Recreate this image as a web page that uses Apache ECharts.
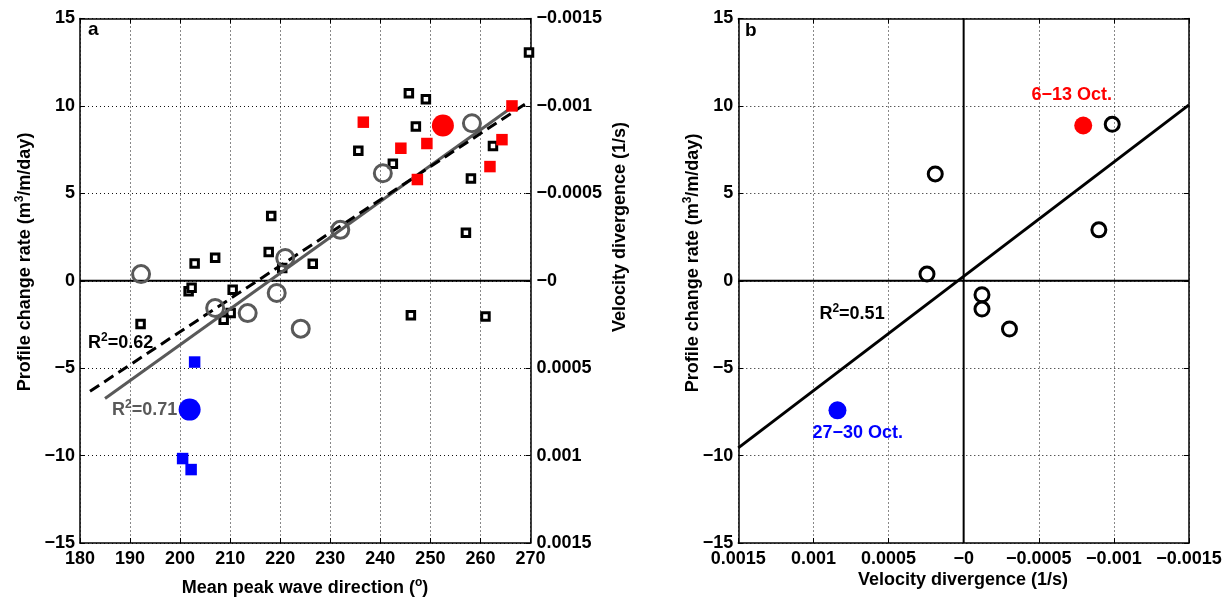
<!DOCTYPE html>
<html>
<head>
<meta charset="utf-8">
<script src="https://cdn.jsdelivr.net/npm/echarts@6/dist/echarts.min.js"></script>
<style>html,body{margin:0;padding:0;background:#fff;}#c{width:1227px;height:597px;}</style>
</head>
<body>
<div id="c"></div>
<script>
// ---- Panel a data: [mean peak wave direction (deg), profile change rate] ----
var blackSquaresA = [[269.7,13.05],[245.7,10.72],[249.1,10.38],[247.1,8.82],[235.6,7.43],[242.5,6.69],[262.5,7.71],[258.1,5.85],[218.2,3.71],[217.7,1.64],[220.4,0.73],[226.5,0.97],[257.1,2.74],[202.9,0.99],[207,1.31],[201.7,-0.6],[202.3,-0.4],[210.5,-0.51],[210.1,-1.85],[208.7,-2.23],[192.1,-2.48],[246.1,-1.98],[261,-2.04]];
var grayCirclesA = [[192.2,0.38],[207,-1.56],[213.5,-1.85],[219.3,-0.7],[224.1,-2.74],[221,1.3],[232,2.91],[240.5,6.15],[258.3,9.01]];
var redSquaresA = [[236.6,9.07],[244.1,7.58],[249.3,7.85],[247.4,5.79],[264.3,8.07],[261.9,6.53],[266.3,10.0]];
var redCircleA = [[252.5,8.88]];
var blueSquaresA = [[202.9,-4.65],[200.5,-10.17],[202.2,-10.8]];
var blueCircleA = [[201.9,-7.37]];
var fitDashedA = [[182,-6.32],[269.7,10.25]];
var fitGrayA = [[185,-6.74],[267,10.07]];
var zeroLineA = [[180,0],[270,0]];
var r2TextA = [{pos:[181.6,-3.54], r2:'0.62', color:'#000'},{pos:[186.4,-7.37], r2:'0.71', color:'#595959'}];

// ---- Panel b data: [velocity divergence (1/s), profile change rate] ----
var blackCirclesB = [[0.000189,6.11],[0.000244,0.38],[-0.000989,8.95],[-0.0009,2.91],[-0.000122,-0.80],[-0.000122,-1.62],[-0.000305,-2.76]];
var redCircleB = [[-0.000796,8.88]];
var blueCircleB = [[0.00084,-7.41]];
var fitB = [[0.0015,-9.56],[-0.0015,10.06]];
var zeroHB = [[0.0015,0],[-0.0015,0]];
var zeroVB = [[0,-15],[0,15]];
var r2TextB = [{pos:[0.00096,-1.9], r2:'0.51', color:'#000'}];
var dateLabelsB = [{pos:[-0.00072,10.6], text:'6\u221213 Oct.', color:'#ff0000'},{pos:[0.000705,-8.7], text:'27\u221230 Oct.', color:'#0000ff'}];

// ---- Axis settings ----
var dirMin = 180, dirMax = 270, dirStep = 10;
var rateMin = -15, rateMax = 15, rateStep = 5;
var divMin = -0.0015, divMax = 0.0015, divStep = 0.0005;

var FONT = 'Liberation Sans';
function minusFmt(v){ v = Math.round(v*1e6)/1e6; return (v<0?'\u2212'+(-v):''+v); }
function divFmt(v){ v = Math.round(v*1e6)/1e6; if (v===0) return '\u22120'; return (v<0?'\u2212'+(-v):''+v); }
var lbl = {fontFamily:FONT, fontWeight:'bold', fontSize:18, color:'#000'};
var axLine = {show:true, onZero:false, lineStyle:{color:'#000', width:1.5}};
var tick = {show:true, inside:true, length:5, lineStyle:{color:'#000', width:1}};
var split = {show:true, lineStyle:{color:'#111', width:1, type:[1,3]}};

function richStyle(color){
  return {
    b:{fontFamily:FONT, fontWeight:'bold', fontSize:18, color:color, lineHeight:22},
    s:{fontFamily:FONT, fontWeight:'bold', fontSize:12, color:color, verticalAlign:'top', lineHeight:22}
  };
}

var grids = [
  {left:80, top:18.5, width:450.5, height:524.5},
  {left:738.3, top:18.5, width:450.7, height:524.5}
];

var xAxes = [
  {gridIndex:0, type:'value', position:'bottom', min:dirMin, max:dirMax, interval:dirStep,
   axisLine:axLine, axisTick:tick, axisLabel:Object.assign({margin:7}, lbl), splitLine:split},
  {gridIndex:0, type:'value', position:'top', min:dirMin, max:dirMax, interval:dirStep,
   axisLine:axLine, axisTick:tick, axisLabel:{show:false}, splitLine:{show:false}},
  {gridIndex:1, type:'value', position:'bottom', min:divMin, max:divMax, interval:divStep, inverse:true,
   axisLine:axLine, axisTick:tick, axisLabel:Object.assign({margin:7, formatter:divFmt}, lbl), splitLine:split},
  {gridIndex:1, type:'value', position:'top', min:divMin, max:divMax, interval:divStep, inverse:true,
   axisLine:axLine, axisTick:tick, axisLabel:{show:false}, splitLine:{show:false}}
];
var yAxes = [
  {gridIndex:0, type:'value', position:'left', min:rateMin, max:rateMax, interval:rateStep,
   axisLine:axLine, axisTick:tick, axisLabel:Object.assign({margin:5, formatter:minusFmt}, lbl), splitLine:split},
  {gridIndex:0, type:'value', position:'right', min:divMin, max:divMax, interval:divStep, inverse:true,
   axisLine:axLine, axisTick:tick, axisLabel:Object.assign({margin:6, formatter:divFmt}, lbl), splitLine:{show:false}},
  {gridIndex:1, type:'value', position:'left', min:rateMin, max:rateMax, interval:rateStep,
   axisLine:axLine, axisTick:tick, axisLabel:Object.assign({margin:5, formatter:minusFmt}, lbl), splitLine:split},
  {gridIndex:1, type:'value', position:'right', min:rateMin, max:rateMax, interval:rateStep,
   axisLine:axLine, axisTick:tick, axisLabel:{show:false}, splitLine:{show:false}}
];

function lineS(xi, yi, data, color, width, type, z){
  return {type:'line', xAxisIndex:xi, yAxisIndex:yi, data:data, symbol:'none', silent:true, z:z||3,
    lineStyle:{color:color, width:width, type:type||'solid'}, animation:false};
}
function scat(xi, yi, data, symbol, size, fill, border, bw, z){
  return {type:'scatter', xAxisIndex:xi, yAxisIndex:yi, data:data, symbol:symbol, symbolSize:size, z:z||5,
    itemStyle:{color:fill, borderColor:border, borderWidth:bw, opacity:1}, animation:false, silent:true};
}
function textS(xi, yi, items, fmt){
  return {type:'scatter', xAxisIndex:xi, yAxisIndex:yi, symbolSize:0, z:6, silent:true, animation:false,
    itemStyle:{opacity:1},
    data: items.map(function(it){ return {value:it.pos, itemStyle:{opacity:1},
      label:{show:true, position:[0,0], align:it.align||'left', verticalAlign:'middle', color:it.color, opacity:1,
      textBorderWidth:0, formatter:fmt(it), rich:richStyle(it.color)}}; })};
}

var series = [
  // panel a
  lineS(0,0,zeroLineA,'#000',2,'solid',2),
  scat(0,0,blackSquaresA,'rect',7.5,'#fff','#000',3,4),
  lineS(0,0,fitGrayA,'#595959',3,'solid',5),
  lineS(0,0,fitDashedA,'#000',3,[11,6],5),
  scat(0,0,grayCirclesA,'circle',17,'rgba(255,255,255,0)','#595959',3,6),
  scat(0,0,redSquaresA,'rect',11.5,'#ff0000','#ff0000',0,6),
  scat(0,0,blueSquaresA,'rect',11.5,'#0000ff','#0000ff',0,6),
  scat(0,0,redCircleA,'circle',22,'#ff0000','#ff0000',0,7),
  scat(0,0,blueCircleA,'circle',22,'#0000ff','#0000ff',0,7),
  textS(0,0,r2TextA,function(it){return '{b|R}{s|2}{b|='+it.r2+'}';}),
  // panel b
  lineS(2,2,zeroHB,'#000',2,'solid',2),
  lineS(2,2,zeroVB,'#000',2,'solid',2),
  lineS(2,2,fitB,'#000',3,'solid',4),
  scat(2,2,blackCirclesB,'circle',14,'rgba(255,255,255,0)','#000',3,6),
  scat(2,2,redCircleB,'circle',18,'#ff0000','#ff0000',0,6),
  scat(2,2,blueCircleB,'circle',18,'#0000ff','#0000ff',0,6),
  textS(2,2,r2TextB,function(it){return '{b|R}{s|2}{b|='+it.r2+'}';}),
  textS(2,2,dateLabelsB.map(function(d){return {pos:d.pos, text:d.text, color:d.color, align:'center'};}),function(it){return '{b|'+it.text+'}';})
];

function gtext(x, y, text, rot, color){
  return {type:'text', x:x, y:y, rotation:rot||0, z:100, silent:true,
    style:{text:text, align:'center', verticalAlign:'middle', fill:color||'#000', rich:richStyle(color||'#000'),
      font:'bold 18px "'+FONT+'"'}};
}

var chart = echarts.init(document.getElementById('c'), null, {renderer:'canvas'});
chart.setOption({
  animation:false,
  backgroundColor:'#fff',
  grid:grids,
  xAxis:xAxes,
  yAxis:yAxes,
  series:series,
  graphic:[
    {type:'text', x:88, y:20, z:100, style:{text:'a', font:'bold 19px "'+FONT+'"', fill:'#000'}},
    {type:'text', x:745, y:21, z:100, style:{text:'b', font:'bold 19px "'+FONT+'"', fill:'#000'}},
    gtext(25, 262, '{b|Profile change rate (m}{s|3}{b|/m/day)}', Math.PI/2),
    gtext(693, 263, '{b|Profile change rate (m}{s|3}{b|/m/day)}', Math.PI/2),
    gtext(620, 227, '{b|Velocity divergence (1/s)}', Math.PI/2),
    gtext(305, 588, '{b|Mean peak wave direction (}{s|o}{b|)}', 0),
    gtext(963, 580, '{b|Velocity divergence (1/s)}', 0)
  ]
});
</script>
</body>
</html>
